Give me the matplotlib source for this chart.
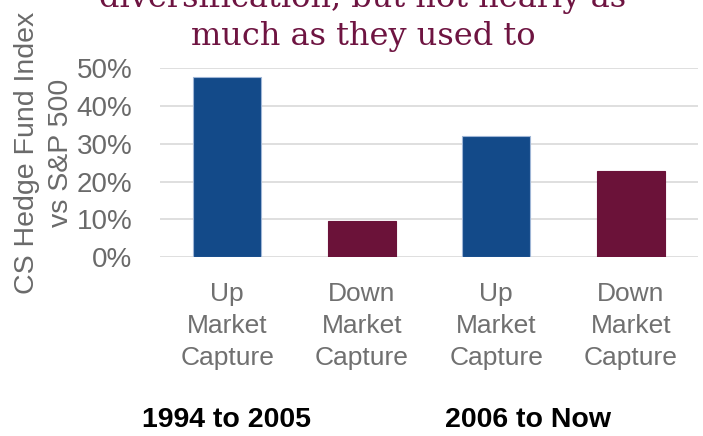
import matplotlib
matplotlib.use("Agg")
import matplotlib.pyplot as plt
from matplotlib.ticker import PercentFormatter

categories = ["Up\nMarket\nCapture", "Down\nMarket\nCapture", "Up\nMarket\nCapture", "Down\nMarket\nCapture"]
values = [0.476, 0.096, 0.321, 0.228]
bar_colors = ["#134a89", "#6b1239", "#134a89", "#6b1239"]
edge_colors = ["#9fb6d6", "#6b1239", "#9fb6d6", "#6b1239"]
yticks = [0, 0.1, 0.2, 0.3, 0.4, 0.5]
group_labels = ["1994 to 2005", "2006 to Now"]
title_lines = ["diversification, but not nearly as", "much as they used to"]
ylabel = "CS Hedge Fund Index\nvs S&P 500"

W, H = 703, 436
fig = plt.figure(figsize=(W / 100, H / 100), dpi=100)
ax = fig.add_axes([160 / W, 1 - 257.3 / H, 538 / W, (257.3 - 68) / H])

x = list(range(len(values)))
ax.bar(x, values, width=0.505, color=bar_colors, edgecolor=edge_colors, linewidth=0.8, zorder=3)
ax.set_xlim(-0.5, len(values) - 0.5)
ax.set_ylim(0, 0.5)
ax.set_yticks(yticks)
ax.yaxis.set_major_formatter(PercentFormatter(1.0, decimals=0))
ax.grid(axis="y", color="#d9d9d9", linewidth=1.2, zorder=0)
ax.set_axisbelow(True)
for s in ax.spines.values():
    s.set_visible(False)
ax.tick_params(axis="both", length=0)
ax.tick_params(axis="y", labelsize=20, labelcolor="#6a6a6a", pad=20)
ax.set_xticks(x)
ax.set_xticklabels(categories, fontsize=19, color="#707070", linespacing=1.41)
ax.tick_params(axis="x", pad=18)
for lab in ax.get_yticklabels() + ax.get_xticklabels():
    lab.set_family("Liberation Sans")

# y label
fig.text(44 / W, 1 - 153 / H, ylabel, rotation=90, ha="center", va="center",
         fontsize=20.5, color="#6a6a6a", family="Liberation Sans", linespacing=1.42,
         multialignment="center")

# group labels
fig.text(227 / W, 1 - 420 / H, group_labels[0], ha="center", va="center",
         fontsize=20.5, fontweight="bold", color="black", family="Liberation Sans")
fig.text(528 / W, 1 - 420 / H, group_labels[1], ha="center", va="center",
         fontsize=20.5, fontweight="bold", color="black", family="Liberation Sans")

# title (first line clipped at top)
fig.text(363 / W, 1 - 7 / H, title_lines[0], ha="center", va="baseline",
         fontsize=23, color="#6e1441", family="DejaVu Serif")
fig.text(363 / W, 1 - 45 / H, title_lines[1], ha="center", va="baseline",
         fontsize=23, color="#6e1441", family="DejaVu Serif")

fig.savefig("out.png", dpi=100)
